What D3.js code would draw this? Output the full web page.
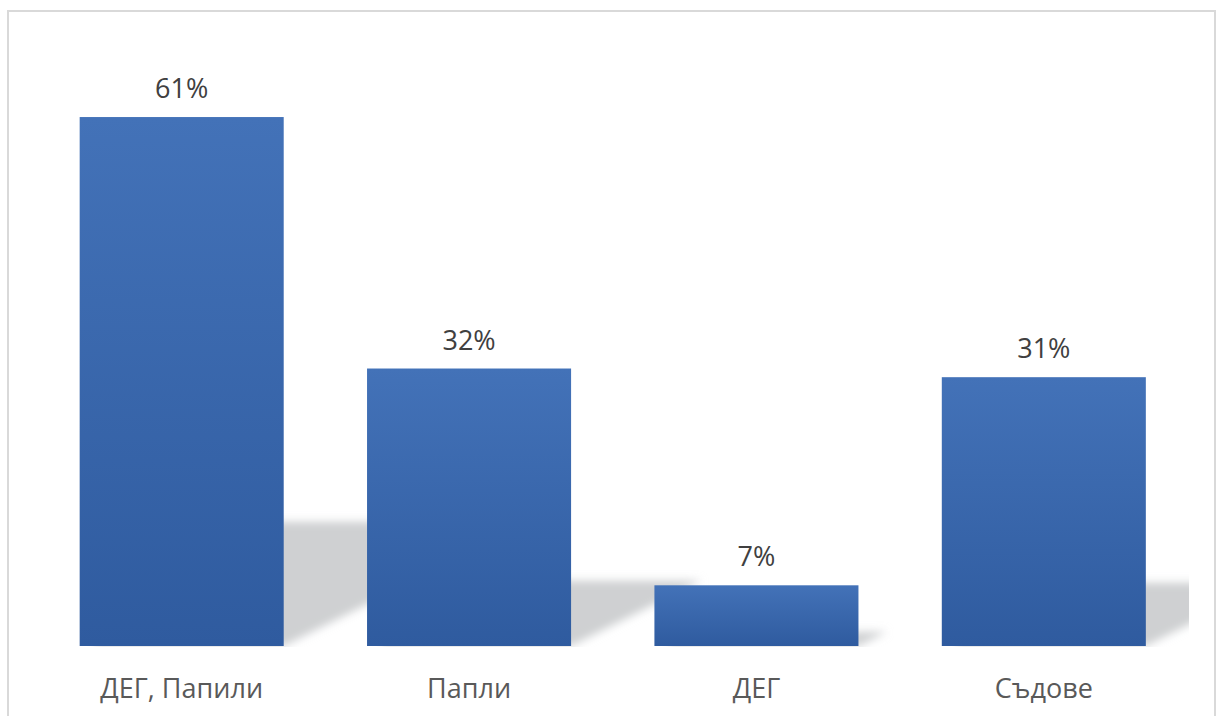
<!DOCTYPE html>
<html>
<head>
<meta charset="utf-8">
<script src="https://cdn.jsdelivr.net/npm/d3@7"></script>
<style>
  html, body { margin: 0; padding: 0; background: #ffffff; }
  svg { display: block; }
</style>
</head>
<body>
<svg id="chart" width="1216" height="716"></svg>
<script>
// Share of cases by type of proceeding
const categories = ["ДЕГ, Папили", "Папли", "ДЕГ", "Съдове"];
const values = [0.61, 0.32, 0.07, 0.31];
const valueLabels = ["61%", "32%", "7%", "31%"];

const svg = d3.select("#chart");

// chart frame
svg.append("rect")
  .attr("x", 8).attr("y", 11)
  .attr("width", 1207).attr("height", 720)
  .attr("fill", "#ffffff")
  .attr("stroke", "#d9d9d9").attr("stroke-width", 2);

const plot = { left: 38, right: 1187.5, top: 39, bottom: 646 };

const x = d3.scaleBand()
  .domain(categories)
  .range([plot.left, plot.right])
  .paddingInner(0.29)
  .paddingOuter(0.145);

const y = d3.scaleLinear()
  .domain([0, 0.7])
  .range([plot.bottom, plot.top]);

const defs = svg.append("defs");

const grad = defs.append("linearGradient")
  .attr("id", "barFill")
  .attr("x1", 0).attr("y1", 0).attr("x2", 0).attr("y2", 1);
grad.append("stop").attr("offset", "0%").attr("stop-color", "#4372b8");
grad.append("stop").attr("offset", "100%").attr("stop-color", "#2f5b9f");

defs.append("filter")
  .attr("id", "soft")
  .attr("x", "-20%").attr("y", "-20%")
  .attr("width", "140%").attr("height", "140%")
  .append("feGaussianBlur").attr("stdDeviation", 4.5);

defs.append("clipPath").attr("id", "plotClip")
  .append("rect")
  .attr("x", plot.left).attr("y", plot.top)
  .attr("width", 1189 - plot.left)
  .attr("height", plot.bottom - plot.top + 1);

// perspective shadows cast to the upper right of each bar
const shadowScale = 0.235, skew = 2.0;
svg.append("g")
  .attr("clip-path", "url(#plotClip)")
  .append("g")
  .attr("filter", "url(#soft)")
  .selectAll("path")
  .data(categories)
  .join("path")
  .attr("fill", "#cfd0d2")
  .attr("d", (c, i) => {
    const x0 = x(c) + 15, x1 = x(c) + x.bandwidth();
    const base = y(0);
    const h = (base - y(values[i])) * shadowScale;
    const top = base - h;
    return `M${x0},${base}L${x1},${base}L${x1 + h * skew},${top}L${x0},${top}Z`;
  });

// bars
svg.append("g")
  .selectAll("rect")
  .data(categories)
  .join("rect")
  .attr("x", c => x(c))
  .attr("width", x.bandwidth())
  .attr("y", (c, i) => y(values[i]))
  .attr("height", (c, i) => y(0) - y(values[i]))
  .attr("fill", "url(#barFill)");

// value labels
svg.append("g")
  .selectAll("text")
  .data(categories)
  .join("text")
  .attr("x", c => x(c) + x.bandwidth() / 2)
  .attr("y", (c, i) => y(values[i]) - 19)
  .attr("text-anchor", "middle")
  .attr("font-family", "'Open Sans', sans-serif")
  .attr("font-size", 27)
  .attr("fill", "#404040")
  .text((c, i) => valueLabels[i]);

// category axis labels
const xAxis = d3.axisBottom(x).tickSize(0).tickPadding(0);
const axisG = svg.append("g")
  .attr("transform", `translate(0,${plot.bottom})`)
  .call(xAxis);
axisG.select(".domain").remove();
axisG.selectAll("text")
  .attr("dy", null)
  .attr("y", 52)
  .attr("font-family", "'Open Sans', sans-serif")
  .attr("font-size", 27)
  .attr("fill", "#595959");
</script>
</body>
</html>
